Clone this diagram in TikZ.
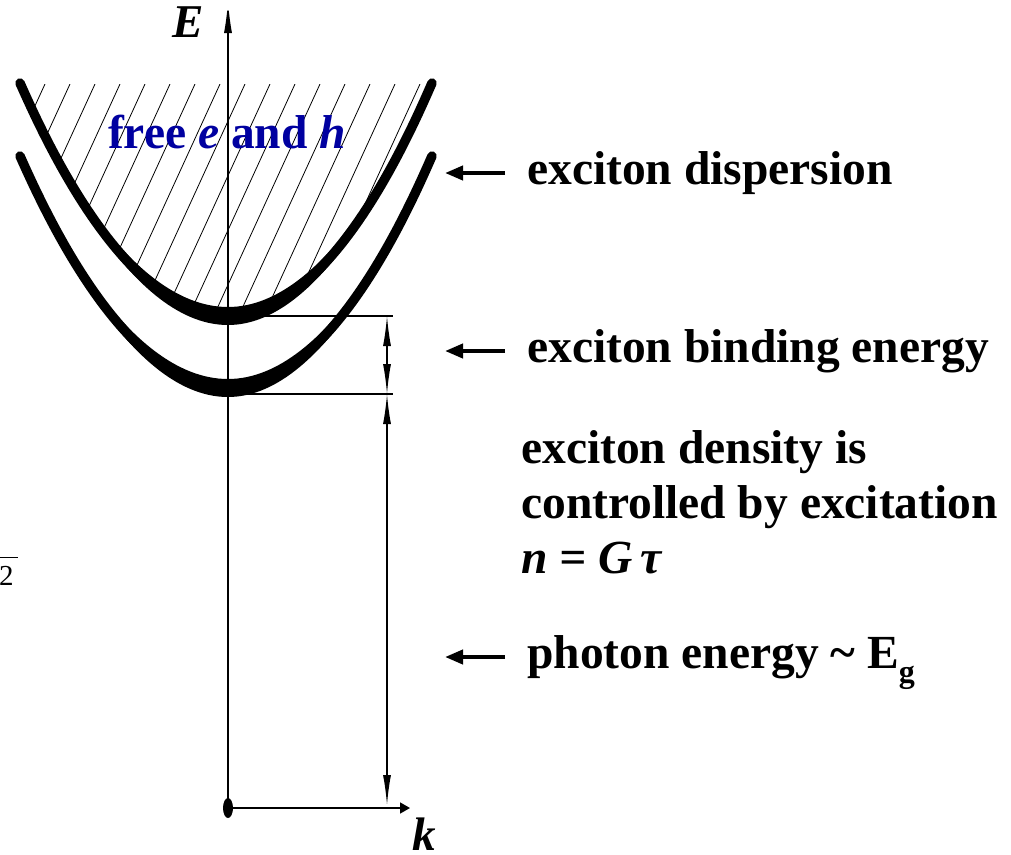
\documentclass[tikz,border=0pt]{standalone}
\usepackage{fontspec}
\setmainfont{Liberation Serif}
\usetikzlibrary{arrows.meta, shapes.geometric, positioning}
\definecolor{xdblue}{RGB}{0,0,160}
\tikzset{
  xd curve/.style={draw=black, line width=9.5pt, line cap=round},
  xd lens/.style={fill=black},
  xd hatch/.style={draw=black, line width=0.8pt},
  xd axis/.style={draw=black, line width=1.6pt},
  xd level/.style={draw=black, line width=1.6pt},
  xd dim/.style={draw=black, line width=1.4pt,
    {Latex[length=30pt,width=8pt]}-{Latex[length=30pt,width=8pt]}},
  xd pointer/.style={draw=black, line width=4pt, -{Triangle[length=18pt,width=14pt]}},
  xd label/.style={inner sep=0pt, font=\fontsize{47.5}{55}\selectfont\bfseries},
  xd sym/.style={inner sep=0pt, font=\fontsize{47}{55}\selectfont\bfseries\itshape},
  xd dot/.style={fill=black, ellipse, minimum width=10pt, minimum height=20pt, inner sep=0pt},
}

\begin{document}
\begin{tikzpicture}[x=1pt, y=-1pt]
 \useasboundingbox (0,0) rectangle (1011,854);
 % continuum of free pairs
 \begin{scope}
  \clip (20,84) parabola bend (228,316) (432,84) -- cycle;
  \foreach \x in {20,45,...,445}
   \draw[xd hatch] (\x,84) -- ++(-110,240);
 \end{scope}
 \node[xd label, text=xdblue, anchor=base] (free) at (227,148)
   {free \textit{e} and \textit{h}};
 % dispersion curves
 \fill[xd lens] (20,83) parabola bend (228,307) (432,83)
   parabola bend (228,325) (20,83) -- cycle;
 \draw[xd curve] (20,83) parabola bend (228,316) (432,83);
 \fill[xd lens] (20,156) parabola bend (228,379) (432,156)
   parabola bend (228,397) (20,156) -- cycle;
 \draw[xd curve] (20,156) parabola bend (228,388) (432,156);
 % axes
 \node[xd dot] (origin) at (228,808) {};
 \coordinate (Etip) at (228,1);
 \coordinate (ktip) at (410,808);
 \draw[xd axis, -{Latex[length=32pt,width=8pt]}] (origin.center) -- (Etip);
 \draw[xd axis, -{Triangle[length=10pt,width=11pt]}] (origin.center) -- (ktip);
 \node[xd sym] (Elab) at (188,22) {E};
 \node[xd sym] (klab) at (424,834) {k};
 % levels
 \coordinate (contMin) at (228,316);
 \coordinate (exMin) at (228,394);
 \coordinate (contR) at (393,316);
 \coordinate (exR) at (393,394);
 \coordinate (bindTop) at (387,316);
 \coordinate (bindBot) at (387,394);
 \coordinate (gapBot) at (387,805);
 \draw[xd level] (contMin) -- (contR);
 \draw[xd level] (exMin) -- (exR);
 \draw[xd dim] (bindTop) -- (bindBot);
 \draw[xd dim] (bindBot) -- (gapBot);
 % labels
 \coordinate (dispTip) at (445,173);
 \coordinate (bindTip) at (445,351);
 \coordinate (photTip) at (445,657);
 \node[xd label, anchor=base west] (disp) at (527,184) {exciton dispersion};
 \node[xd label, anchor=base west] (bind) at (527,362) {exciton binding energy};
 \node[xd label, anchor=north west, align=left] (dens) at (521,430)
   {exciton density is\\controlled by excitation\\\textit{n = G\,τ}};
 \node[xd label, anchor=base west] (phot) at (527,668)
   {photon energy \textasciitilde\ E\raisebox{-14pt}{\fontsize{32}{32}\selectfont g}};
 \draw[xd pointer, shorten <=22pt] (disp.west |- dispTip) -- (dispTip);
 \draw[xd pointer, shorten <=22pt] (bind.west |- bindTip) -- (bindTip);
 \draw[xd pointer, shorten <=22pt] (phot.west |- photTip) -- (photTip);
 \node[anchor=base west, inner sep=0pt, font=\fontsize{29}{29}\selectfont] (frag)
   at (-1,585) {\rlap{\rule[27pt]{19pt}{1.2pt}}2};
\end{tikzpicture}
\end{document}
